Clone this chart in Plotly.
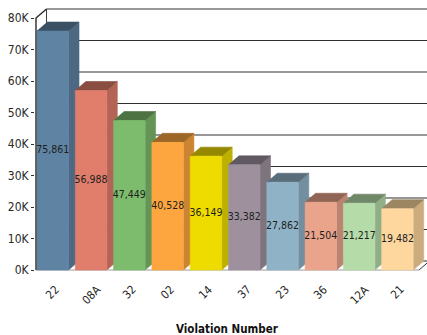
import plotly.graph_objects as go

# Citations by violation code
violations = ["22", "08A", "32", "02", "14", "37", "23", "36", "12A", "21"]
counts = [75861, 56988, 47449, 40528, 36149, 33382, 27862, 21504, 21217, 19482]

y_ticks = [0, 10000, 20000, 30000, 40000, 50000, 60000, 70000, 80000]
y_tick_labels = ["0K", "10K", "20K", "30K", "40K", "50K", "60K", "70K", "80K"]

# Front-face colour of each bar; the side and top faces are darker shades
face_colors = ["#5F83A3", "#E07D6B", "#7DBB6D", "#FDA63F", "#EEDC00",
               "#9E919D", "#90B2C6", "#EAA48C", "#B5DBA9", "#FDD79D"]

FONT = "DejaVu Sans Condensed, Liberation Sans Narrow, Liberation Sans, sans-serif"

# Pixel geometry of the pseudo-3D projection
PX_PER_CAT = 38.3          # horizontal pixels per category
PX_PER_VAL = 31.5 / 10000  # vertical pixels per count
DX = 10.5 / PX_PER_CAT     # depth offset, in category units
DY = 9.0 / PX_PER_VAL      # depth offset, in count units
BAR_W = 31.5 / PX_PER_CAT
BAR_OFF = 1.0 / PX_PER_CAT

W, H = 427, 335
M_L, M_T, M_B = 35, 0, 63
plot_h = H - M_T - M_B
ZERO_PX = 270  # pixel row of the front zero line

x_lo = -0.5 - 1.0 / PX_PER_CAT
x_hi = x_lo + (W - M_L) / PX_PER_CAT
y_lo = -(M_T + plot_h - ZERO_PX) / PX_PER_VAL
y_hi = (ZERO_PX - M_T) / PX_PER_VAL


def shade(hex_color, f):
    h = hex_color.lstrip("#")
    r, g, b = (int(h[i:i + 2], 16) for i in (0, 2, 4))
    return "#{:02x}{:02x}{:02x}".format(int(r * f), int(g * f), int(b * f))


def poly(xs, ys, color, line_color=None):
    return go.Scatter(
        x=xs + [xs[0]], y=ys + [ys[0]], mode="lines", fill="toself",
        fillcolor=color, line=dict(color=line_color or color, width=0.6),
        hoverinfo="skip", showlegend=False,
    )


def seg(xs, ys, color="#3a3a3a", width=1.0):
    return go.Scatter(x=xs, y=ys, mode="lines", line=dict(color=color, width=width),
                      hoverinfo="skip", showlegend=False)


fig = go.Figure()

front_left = -0.5
front_right = front_left + len(violations)
top_val = y_ticks[-1]

# back wall gridlines
for t in y_ticks:
    fig.add_trace(seg([front_left + DX, front_right + DX], [t + DY, t + DY], "#303030", 1.1))
# back wall left edge
fig.add_trace(seg([front_left + DX, front_left + DX], [DY, top_val + DY], "#404040", 1.0))
# floor front and right edges
fig.add_trace(seg([front_left, front_right], [0, 0], "#9a9a9a", 1.0))
fig.add_trace(seg([front_right, front_right + DX], [0, DY], "#333333", 1.0))

# bars, drawn left to right so each front face hides the previous side face
for i, (v, c) in enumerate(zip(counts, face_colors)):
    x0 = i - 0.5 + BAR_OFF
    x1 = x0 + BAR_W
    fig.add_trace(poly([x1, x1 + DX, x1 + DX, x1], [0, DY, v + DY, v], shade(c, 0.80)))
    fig.add_trace(poly([x0, x1, x1 + DX, x0 + DX], [v, v, v + DY, v + DY], shade(c, 0.62)))
    fig.add_trace(poly([x0, x1, x1, x0], [0, 0, v, v], c))

# front value axis with its corner to the back wall
fig.add_trace(seg([front_left, front_left, front_left + DX], [0, top_val, top_val + DY], "#2a2a2a", 1.4))

# value labels in the middle of each bar
centers = [i - 0.5 + BAR_OFF + BAR_W / 2 for i in range(len(violations))]
fig.add_trace(go.Scatter(
    x=centers, y=[v / 2 for v in counts], mode="text",
    text=[f"{v:,}" for v in counts],
    textfont=dict(family=FONT, size=10.5, color="#1e1e1e"),
    hoverinfo="skip", showlegend=False,
))

# rotated category labels
for xc, lab in zip(centers, violations):
    fig.add_annotation(
        x=xc, y=0, xref="x", yref="y", text=lab, showarrow=False,
        textangle=-45, xanchor="center", yanchor="top", yshift=-10,
        font=dict(family=FONT, size=11.5, color="#1e1e1e"),
    )

fig.add_annotation(
    x=(front_left + front_right) / 2, y=0, xref="x", yref="paper",
    text="<b>Violation Number</b>", showarrow=False, yanchor="top", yshift=-48,
    font=dict(family=FONT, size=11.5, color="#111111"),
)

fig.update_layout(
    width=W, height=H,
    margin=dict(l=M_L, r=0, t=M_T, b=M_B),
    paper_bgcolor="white", plot_bgcolor="white",
    showlegend=False,
    xaxis=dict(range=[x_lo, x_hi], showgrid=False, zeroline=False, showline=False,
               showticklabels=False, ticks="", fixedrange=True),
    yaxis=dict(range=[y_lo, y_hi], tickvals=y_ticks, ticktext=y_tick_labels,
               showgrid=False, zeroline=False, showline=False,
               ticks="outside", ticklen=3, tickcolor="#333333", tickwidth=1,
               tickfont=dict(family=FONT, size=12, color="#2a2a2a"),
               fixedrange=True),
)

fig.write_html("out.html", config={"displayModeBar": False})
